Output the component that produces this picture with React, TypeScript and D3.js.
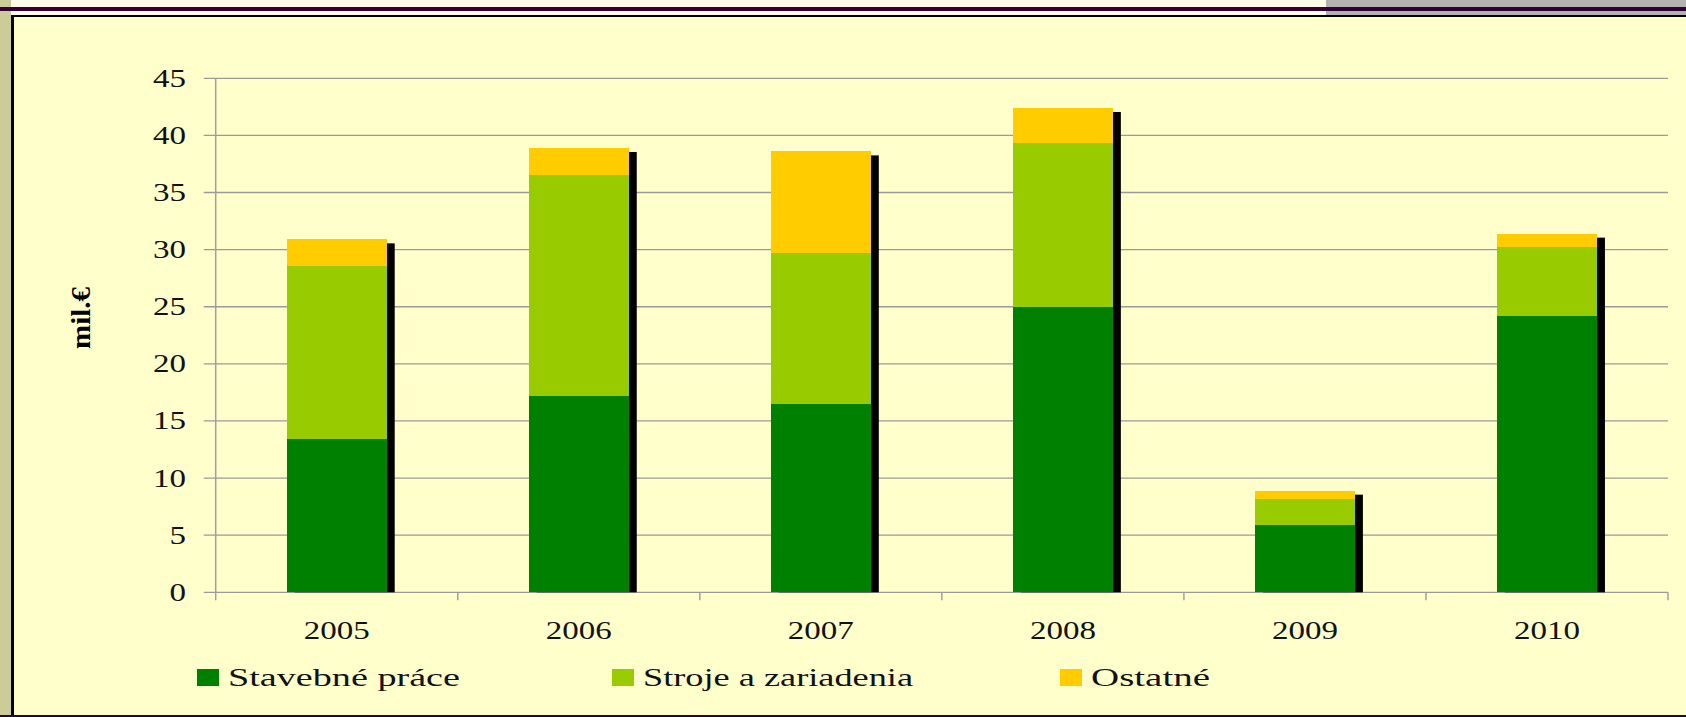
import React, { useEffect, useRef } from 'react';
import * as d3 from 'd3';

const years = ['2005', '2006', '2007', '2008', '2009', '2010'];
const stavebne = [13.4, 17.2, 16.5, 25.0, 5.9, 24.2];
const stroje = [15.2, 19.3, 13.2, 14.3, 2.3, 6.0];
const ostatne = [2.3, 2.4, 8.9, 3.1, 0.7, 1.2];
const yTicks = [0, 5, 10, 15, 20, 25, 30, 35, 40, 45];
const seriesNames = ['Stavebné práce', 'Stroje a zariadenia', 'Ostatné'];
const seriesColors = ['#008000', '#99CC00', '#FFCC00'];

// legend layout (swatch x, text width)
const legendLayout = [
    { x: 197, tw: 232 },
    { x: 612, tw: 270 },
    { x: 1060, tw: 119 },
];

const W = 1686;
const H = 717;
const FONT = '"Liberation Serif", "Times New Roman", serif';

const App = () => {
    const svgRef = useRef<SVGSVGElement>(null);

    useEffect(() => {
        const svg = d3.select(svgRef.current);
        svg.selectAll('*').remove();

        // frame
        svg.append('rect').attr('width', W).attr('height', H).attr('fill', '#FFFFCC');
        svg.append('rect').attr('width', W).attr('height', 16).attr('fill', '#FFFFE8');
        svg.append('rect').attr('x', 1326).attr('width', W - 1326).attr('height', 16).attr('fill', '#B2B2B2');
        svg.append('rect').attr('width', 11).attr('height', H).attr('fill', '#CCCC99');
        svg.append('rect').attr('y', 7).attr('width', W).attr('height', 4).attr('fill', '#330033');
        svg.append('rect').attr('x', 11).attr('y', 15).attr('width', W - 11).attr('height', 2).attr('fill', '#000');
        svg.append('rect').attr('x', 11).attr('y', 15).attr('width', 3).attr('height', H - 15).attr('fill', '#000');
        svg.append('rect').attr('y', H - 2).attr('width', W).attr('height', 2).attr('fill', '#330033');

        const left = 215.7, right = 1668, top = 78.3, bottom = 592.3;

        const x = d3.scaleBand().domain(years).range([left, right]).padding(0);
        const y = d3.scaleLinear().domain([0, 45]).range([bottom, top]);
        const barW = x.bandwidth() * 0.413;

        // gridlines
        svg.append('g').selectAll('line')
            .data(yTicks)
            .enter().append('line')
            .attr('x1', left - 12).attr('x2', right)
            .attr('y1', d => y(d)).attr('y2', d => y(d))
            .attr('stroke', '#9A9A9A').attr('stroke-width', 1.3);

        // axes lines
        svg.append('line').attr('x1', left).attr('x2', left).attr('y1', top).attr('y2', bottom)
            .attr('stroke', '#A0A0A0').attr('stroke-width', 1.5);
        svg.append('g').selectAll('line')
            .data(d3.range(years.length + 1))
            .enter().append('line')
            .attr('x1', i => left + i * x.step()).attr('x2', i => left + i * x.step())
            .attr('y1', bottom).attr('y2', bottom + 8)
            .attr('stroke', '#A0A0A0').attr('stroke-width', 1.5);

        // y tick labels
        svg.append('g').selectAll('text')
            .data(yTicks)
            .enter().append('text')
            .attr('x', 186).attr('y', d => y(d)).attr('dy', '0.34em')
            .attr('text-anchor', 'end')
            .attr('font-family', FONT).attr('font-size', 25).attr('fill', '#111')
            .attr('textLength', d => String(d).length * 16.5)
            .attr('lengthAdjust', 'spacingAndGlyphs')
            .text(d => d);

        // x labels
        svg.append('g').selectAll('text')
            .data(years)
            .enter().append('text')
            .attr('x', d => (x(d) as number) + x.bandwidth() / 2).attr('y', 639)
            .attr('text-anchor', 'middle')
            .attr('font-family', FONT).attr('font-size', 25).attr('fill', '#111')
            .attr('textLength', 66).attr('lengthAdjust', 'spacingAndGlyphs')
            .text(d => d);

        // y title
        svg.append('text')
            .attr('transform', 'translate(90,318) rotate(-90)')
            .attr('text-anchor', 'middle')
            .attr('font-family', FONT).attr('font-size', 27).attr('font-weight', 'bold')
            .attr('textLength', 62).attr('lengthAdjust', 'spacingAndGlyphs')
            .text('mil.€');

        const rows = years.map((yr, i) => ({ yr, vals: [stavebne[i], stroje[i], ostatne[i]] }));

        // shadows
        svg.append('g').selectAll('rect')
            .data(rows)
            .enter().append('rect')
            .attr('x', d => (x(d.yr) as number) + (x.bandwidth() - barW) / 2 + 8)
            .attr('width', barW)
            .attr('y', d => y(d3.sum(d.vals)) + 4)
            .attr('height', d => bottom - y(d3.sum(d.vals)) - 4)
            .attr('fill', '#000');

        // stacked bars
        const stack = d3.stack<any>().keys(['0', '1', '2'])(rows.map(r => ({ yr: r.yr, 0: r.vals[0], 1: r.vals[1], 2: r.vals[2] })));
        stack.forEach((layer, k) => {
            svg.append('g').selectAll('rect')
                .data(layer)
                .enter().append('rect')
                .attr('x', d => (x(d.data.yr) as number) + (x.bandwidth() - barW) / 2)
                .attr('width', barW)
                .attr('y', d => y(d[1]))
                .attr('height', d => y(d[0]) - y(d[1]))
                .attr('fill', seriesColors[k])
                .attr('shape-rendering', 'crispEdges');
        });

        // legend
        const lg = svg.append('g');
        seriesNames.forEach((name, i) => {
            const l = legendLayout[i];
            lg.append('rect').attr('x', l.x).attr('y', 669).attr('width', 22).attr('height', 17)
                .attr('fill', seriesColors[i]);
            lg.append('text')
                .attr('x', l.x + 31).attr('y', 686)
                .attr('font-family', FONT).attr('font-size', 26).attr('fill', '#111')
                .attr('textLength', l.tw).attr('lengthAdjust', 'spacingAndGlyphs')
                .text(name);
        });
    }, []);

    return (
        <svg ref={svgRef} width={W} height={H}
            style={{ position: 'absolute', left: 0, top: 0, display: 'block' }} />
    );
};

export default App;
